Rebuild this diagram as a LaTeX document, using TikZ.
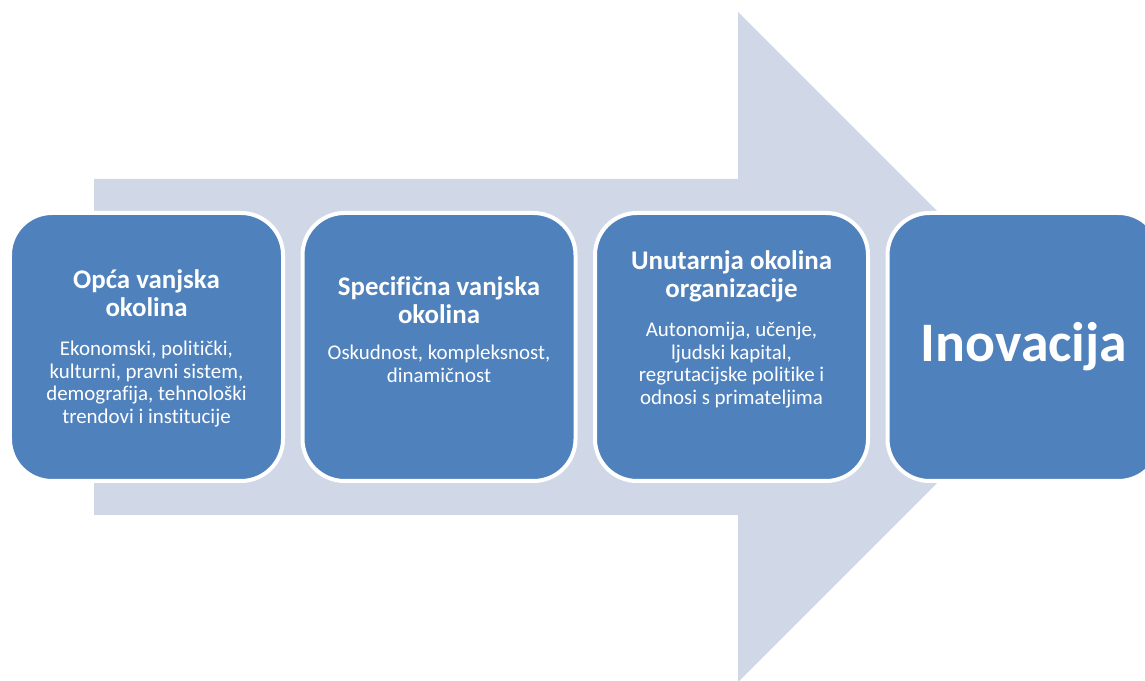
\documentclass[tikz,border=0pt]{standalone}
\usepackage{fontspec}
\setmainfont{Carlito}[Ligatures=CommonOff]
\usetikzlibrary{positioning}
\definecolor{stageblue}{HTML}{4F81BD}
\definecolor{arrowgray}{HTML}{D0D8E8}
\tikzset{
  stage/.style = {
    rectangle,
    draw = white,
    fill = stageblue,
    line width = 4bp,
    rounded corners = 42bp,
    minimum width = 273bp,
    minimum height = 268bp,
    inner sep = 0pt,
    outer sep = 0pt
  },
  head/.style = {
    align = center,
    text = white,
    inner sep = 0pt,
    font = \fontsize{27}{28.5}\selectfont\bfseries
  },
  desc/.style = {
    align = center,
    text = white,
    inner sep = 0pt,
    font = \fontsize{21}{22.6}\selectfont
  },
  big/.style = {
    text = white,
    font = \fontsize{56}{60}\selectfont\bfseries
  }
}

\begin{document}
\begin{tikzpicture}[x = 1bp, y = 1bp]
  \useasboundingbox (0,0) rectangle (1145,681);

  % Strelica u pozadini.
  \fill[arrowgray] (94,502) -- (738,502) -- (738,669) -- (1073,334)
    -- (738,-1) -- (738,166) -- (94,166) -- cycle;

  % Okoline.
  \node[stage] (O) at (146.5,334) {};
  \node[stage] (S) [right = 19.5bp of O] {};
  \node[stage] (U) [right = 19.5bp of S] {};
  \node[stage, big] (I) [right = 19.5bp of U] {Inovacija};

  % Opća vanjska okolina.
  \node[head] (OT) [below = 56bp of O.north] {Opća vanjska\\okolina};
  \node[desc] (OD) [below = 24bp of OT] {Ekonomski, politički,\\kulturni, pravni sistem,\\demografija, tehnološki\\trendovi i institucije};

  % Specifična vanjska okolina.
  \node[head] (ST) [below = 63bp of S.north] {Specifična vanjska\\okolina};
  \node[desc] (SD) [below = 21bp of ST] {Oskudnost, kompleksnost,\\dinamičnost};

  % Unutarnja okolina.
  \node[head] (UT) [below = 37bp of U.north] {Unutarnja okolina\\organizacije};
  \node[desc] (UD) [below = 20bp of UT] {Autonomija, učenje,\\ljudski kapital,\\regrutacijske politike i\\odnosi s primateljima};
\end{tikzpicture}
\end{document}
